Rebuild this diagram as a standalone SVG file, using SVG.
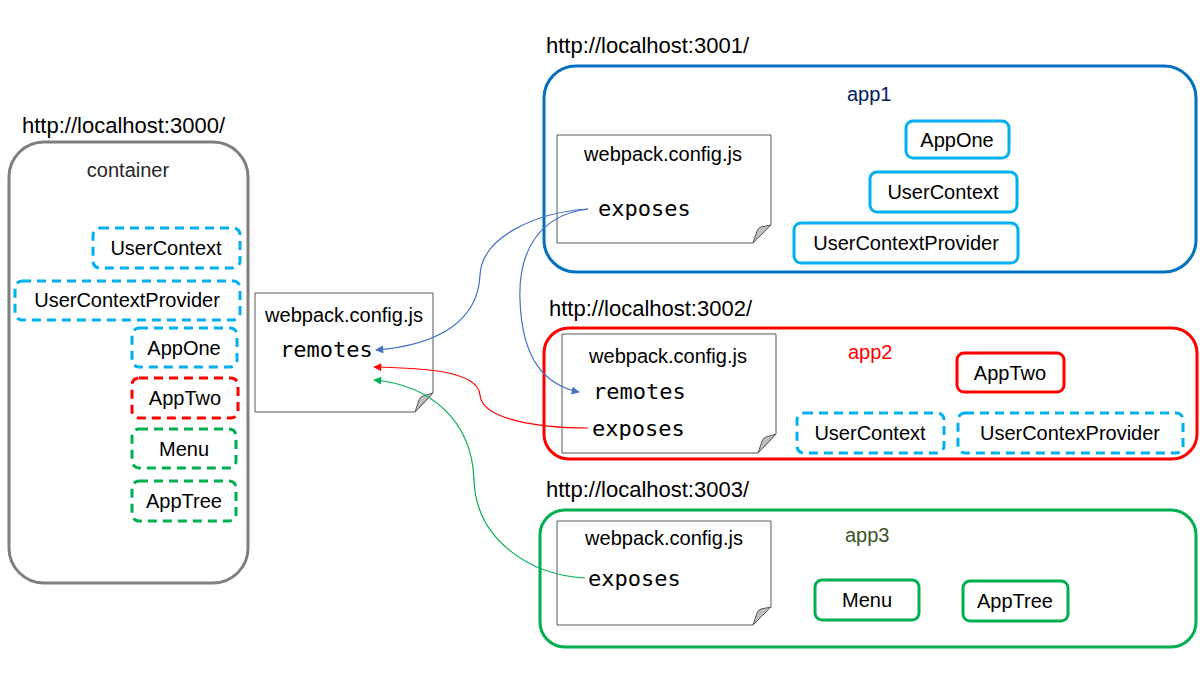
<svg xmlns="http://www.w3.org/2000/svg" width="1200" height="675" viewBox="0 0 1200 675">
<style>
text{font-family:"Liberation Sans",Arial,sans-serif;font-size:20px;fill:#000}
.url{font-size:22px}
.mono{font-family:"DejaVu Sans Mono","Liberation Mono",monospace;font-size:22px}
.c{text-anchor:middle}
.doc{fill:#fff;stroke:#595959;stroke-width:1}
.fold{fill:#bfbfbf;stroke:#595959;stroke-width:1}
.blueD{fill:#fff;stroke:#00b0f0;stroke-width:3;stroke-dasharray:9 6}
.redD{fill:#fff;stroke:#ff0000;stroke-width:3;stroke-dasharray:9 6}
.greenD{fill:#fff;stroke:#00b050;stroke-width:3;stroke-dasharray:9 6}
.blueS{fill:#fff;stroke:#00b0f0;stroke-width:3}
.redS{fill:#fff;stroke:#ff0000;stroke-width:3}
.greenS{fill:#fff;stroke:#00b050;stroke-width:3}
.conn{fill:none;stroke-width:1.2}
</style>
<defs>
<marker id="ab" viewBox="0 0 10 10" refX="9" refY="5" markerWidth="10" markerHeight="8" markerUnits="userSpaceOnUse" orient="auto"><path d="M0,0 L10,5 L0,10 Z" fill="#4472c4"/></marker>
<marker id="ar" viewBox="0 0 10 10" refX="9" refY="5" markerWidth="10" markerHeight="8" markerUnits="userSpaceOnUse" orient="auto"><path d="M0,0 L10,5 L0,10 Z" fill="#ff0000"/></marker>
<marker id="ag" viewBox="0 0 10 10" refX="9" refY="5" markerWidth="10" markerHeight="8" markerUnits="userSpaceOnUse" orient="auto"><path d="M0,0 L10,5 L0,10 Z" fill="#00b050"/></marker>
</defs>

<g id="container">
<text x="22" y="133" class="url">http://localhost:3000/</text>
<rect x="9" y="142" width="239" height="441" rx="35" fill="#fff" stroke="#7f7f7f" stroke-width="3"/>
<text x="128" y="177" class="c" style="fill:#262626">container</text>
<g id="c-usercontext"><rect x="93" y="228" width="147" height="40" rx="7" class="blueD"/><text x="166" y="255" class="c">UserContext</text></g>
<g id="c-ucp"><rect x="15" y="281" width="225" height="39" rx="7" class="blueD"/><text x="127" y="307" class="c">UserContextProvider</text></g>
<g id="c-appone"><rect x="132" y="328" width="105" height="39" rx="7" class="blueD"/><text x="184" y="355" class="c">AppOne</text></g>
<g id="c-apptwo"><rect x="132" y="378" width="106" height="40" rx="7" class="redD"/><text x="185" y="405" class="c">AppTwo</text></g>
<g id="c-menu"><rect x="132" y="429" width="104" height="39" rx="7" class="greenD"/><text x="184" y="456" class="c">Menu</text></g>
<g id="c-apptree"><rect x="132" y="481" width="104" height="40" rx="7" class="greenD"/><text x="184" y="508" class="c">AppTree</text></g>
</g>

<g id="container-webpack">
<path d="M255,293 H433 V393 L415,412 H255 Z" class="doc"/>
<path d="M415,412 L419,400 Q420,397 423,396 L433,393 Z" class="fold"/>
<text x="344" y="322" class="c">webpack.config.js</text>
<text x="280" y="357" class="mono">remotes</text>
</g>

<g id="app1">
<text x="546" y="53" class="url">http://localhost:3001/</text>
<rect x="544" y="66" width="652" height="206" rx="32" fill="#fff" stroke="#0070c0" stroke-width="3"/>
<text x="847" y="101" style="fill:#002060">app1</text>
<g id="app1-webpack">
<path d="M557,135 H771 V225 L753,243 H557 Z" class="doc"/>
<path d="M753,243 L757,231 Q758,228 761,227 L771,225 Z" class="fold"/>
<text x="663" y="161" class="c">webpack.config.js</text>
<text x="598" y="216" class="mono">exposes</text>
</g>
<g id="app1-appone"><rect x="906" y="121" width="103" height="37" rx="7" class="blueS"/><text x="957" y="147" class="c">AppOne</text></g>
<g id="app1-usercontext"><rect x="870" y="172" width="147" height="40" rx="7" class="blueS"/><text x="943" y="199" class="c">UserContext</text></g>
<g id="app1-ucp"><rect x="794" y="223" width="224" height="40" rx="7" class="blueS"/><text x="906" y="250" class="c">UserContextProvider</text></g>
</g>

<g id="app2">
<text x="549" y="316" class="url">http://localhost:3002/</text>
<rect x="544" y="328" width="653" height="131" rx="25" fill="#fff" stroke="#ff0000" stroke-width="3"/>
<text x="848" y="359" style="fill:#ff0000">app2</text>
<g id="app2-webpack">
<path d="M562,334 H776 V434 L758,453 H562 Z" class="doc"/>
<path d="M758,453 L762,441 Q763,438 766,437 L776,434 Z" class="fold"/>
<text x="668" y="363" class="c">webpack.config.js</text>
<text x="593" y="399" class="mono">remotes</text>
<text x="592" y="436" class="mono">exposes</text>
</g>
<g id="app2-apptwo"><rect x="957" y="353" width="107" height="39" rx="7" class="redS"/><text x="1010" y="380" class="c">AppTwo</text></g>
<g id="app2-usercontext"><rect x="797" y="413" width="147" height="40" rx="7" class="blueD"/><text x="870" y="440" class="c">UserContext</text></g>
<g id="app2-ucp"><rect x="958" y="413" width="225" height="40" rx="7" class="blueD"/><text x="1070" y="440" class="c">UserContexProvider</text></g>
</g>

<g id="app3">
<text x="546" y="497" class="url">http://localhost:3003/</text>
<rect x="540" y="510" width="656" height="137" rx="25" fill="#fff" stroke="#00b050" stroke-width="3"/>
<text x="845" y="542" style="fill:#375623">app3</text>
<g id="app3-webpack">
<path d="M557,521 H771 V607 L753,625 H557 Z" class="doc"/>
<path d="M753,625 L757,613 Q758,610 761,609 L771,607 Z" class="fold"/>
<text x="664" y="545" class="c">webpack.config.js</text>
<text x="588" y="586" class="mono">exposes</text>
</g>
<g id="app3-menu"><rect x="815" y="580" width="104" height="40" rx="7" class="greenS"/><text x="867" y="607" class="c">Menu</text></g>
<g id="app3-apptree"><rect x="963" y="581" width="105" height="40" rx="7" class="greenS"/><text x="1015" y="608" class="c">AppTree</text></g>
</g>

<g id="connectors">
<path d="M588,209 C540,212 482,235 480,275 C478,320 440,345 376,350" class="conn" stroke="#4472c4" marker-end="url(#ab)"/>
<path d="M588,209 C540,215 518,250 520,300 C522,360 545,385 579,392" class="conn" stroke="#4472c4" marker-end="url(#ab)"/>
<path d="M588,428 C540,428 482,420 480,395 C478,370 420,368 374,367" class="conn" stroke="#ff0000" marker-end="url(#ar)"/>
<path d="M585,578 C530,575 476,540 474,480 C472,420 430,385 374,380" class="conn" stroke="#00b050" marker-end="url(#ag)"/>
</g>
</svg>
